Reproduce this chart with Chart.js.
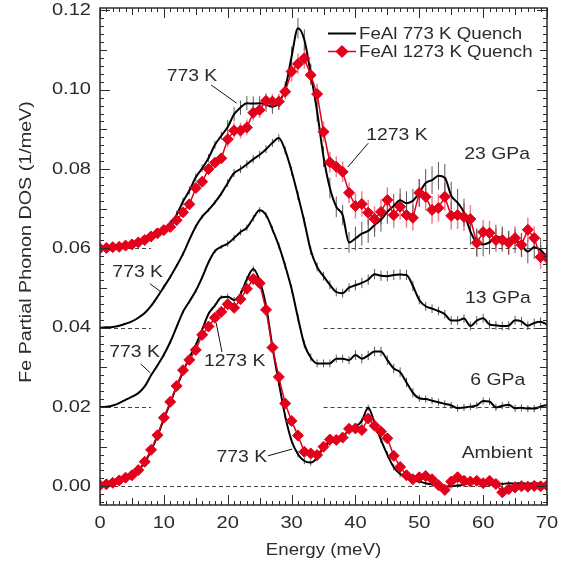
<!DOCTYPE html>
<html>
<head>
<meta charset="utf-8">
<title>FeAl Fe partial phonon DOS</title>
<script src="https://cdn.jsdelivr.net/npm/chart.js@4.4.0/dist/chart.umd.min.js"></script>
<style>
  html, body { margin: 0; padding: 0; background: #fff; }
  #wrap { width: 572px; height: 565px; }
</style>
</head>
<body>
<div id="wrap"><canvas id="dos" width="572" height="565"></canvas></div>
<script>
// ── data (meV, 1/meV) ──
const energy = [0,1,2,3,4,5,6,7,8,9,10,11,12,13,14,15,16,17,18,19,20,21,22,23,24,25,26,27,28,29,
  30,31,32,33,34,35,36,37,38,39,40,41,42,43,44,45,46,47,48,49,50,51,52,53,54,55,56,57,58,59,
  60,61,62,63,64,65,66,67,68,69,70];

// 773 K quench, ambient
const amb773 = [0.0003,0.0005,0.0009,0.0014,0.0021,0.0028,0.0040,0.0060,0.0090,0.0127,
  0.0170,0.0210,0.0252,0.0288,0.0325,0.0356,0.0395,0.0435,0.0456,0.0477,
  0.0478,0.0470,0.0485,0.0522,0.0548,0.0518,0.0455,0.0352,0.0262,0.0177,
  0.0115,0.0081,0.0064,0.0060,0.0072,0.0098,0.0110,0.0115,0.0124,0.0142,
  0.0150,0.0165,0.0198,0.0160,0.0117,0.0080,0.0048,0.0031,0.0022,0.0015,
  0.0012,0.0008,0.0005,0.0003,-0.0001,0.0000,0.0002,0.0005,0.0009,0.0008,
  0.0007,0.0004,0.0005,0.0006,0.0008,0.0007,0.0009,0.0006,0.0008,0.0007,0.0006];

// 1273 K quench, ambient
const amb1273 = [0.0003,0.0005,0.0009,0.0015,0.0022,0.0028,0.0041,0.0062,0.0092,0.0129,
  0.0173,0.0213,0.0253,0.0293,0.0319,0.0344,0.0382,0.0403,0.0425,0.0440,
  0.0459,0.0450,0.0472,0.0498,0.0523,0.0512,0.0445,0.0350,0.0276,0.0209,
  0.0165,0.0128,0.0087,0.0083,0.0079,0.0100,0.0118,0.0117,0.0123,0.0145,
  0.0146,0.0142,0.0171,0.0153,0.0138,0.0121,0.0077,0.0049,0.0028,0.0018,
  0.0023,0.0026,0.0018,0.0003,-0.0009,0.0012,0.0023,0.0014,0.0012,0.0014,
  0.0008,0.0014,0.0006,-0.0015,-0.0007,-0.0003,0.0000,-0.0001,0.0001,0.0000,0.0002];

// 773 K quench, 6 GPa (offset +0.02)
const p6_773 = [0.0200,0.0201,0.0204,0.0210,0.0218,0.0226,0.0235,0.0252,0.0280,0.0305,
  0.0332,0.0364,0.0402,0.0440,0.0466,0.0493,0.0527,0.0565,0.0593,0.0604,
  0.0612,0.0626,0.0641,0.0652,0.0676,0.0696,0.0684,0.0648,0.0607,0.0556,
  0.0498,0.0425,0.0358,0.0325,0.0310,0.0310,0.0310,0.0322,0.0322,0.0318,
  0.0331,0.0322,0.0330,0.0340,0.0340,0.0318,0.0297,0.0288,0.0262,0.0236,
  0.0222,0.0220,0.0216,0.0212,0.0208,0.0204,0.0197,0.0199,0.0201,0.0204,
  0.0215,0.0214,0.0199,0.0203,0.0206,0.0197,0.0198,0.0196,0.0196,0.0201,0.0205];

// 773 K quench, 13 GPa (offset +0.04)
const p13_773 = [0.0400,0.0401,0.0402,0.0405,0.0410,0.0416,0.0425,0.0437,0.0455,0.0478,
  0.0503,0.0528,0.0556,0.0586,0.0622,0.0655,0.0680,0.0697,0.0716,0.0738,
  0.0765,0.0790,0.0800,0.0812,0.0825,0.0836,0.0850,0.0866,0.0878,0.0847,
  0.0795,0.0733,0.0667,0.0595,0.0553,0.0530,0.0508,0.0490,0.0487,0.0501,
  0.0507,0.0513,0.0521,0.0535,0.0531,0.0530,0.0533,0.0534,0.0533,0.0505,
  0.0470,0.0454,0.0448,0.0442,0.0434,0.0418,0.0418,0.0423,0.0404,0.0418,
  0.0424,0.0408,0.0406,0.0404,0.0405,0.0419,0.0416,0.0405,0.0412,0.0415,0.0408];

// 773 K quench, 23 GPa (offset +0.06)
const p23_773 = [0.0600,0.0601,0.0602,0.0604,0.0606,0.0610,0.0615,0.0621,0.0630,0.0638,
  0.0648,0.0662,0.0685,0.0718,0.0746,0.0779,0.0802,0.0828,0.0861,0.0884,
  0.0906,0.0938,0.0955,0.0966,0.0965,0.0966,0.0962,0.0957,0.0967,0.1003,
  0.1083,0.1155,0.1126,0.1040,0.0945,0.0831,0.0752,0.0705,0.0684,0.0615,
  0.0625,0.0637,0.0644,0.0659,0.0672,0.0692,0.0707,0.0721,0.0714,0.0720,
  0.0740,0.0765,0.0772,0.0783,0.0778,0.0733,0.0715,0.0690,0.0643,0.0615,
  0.0610,0.0615,0.0630,0.0625,0.0614,0.0618,0.0608,0.0592,0.0603,0.0596,0.0578];

// 1273 K quench, 23 GPa (offset +0.06)
const p23_1273 = [0.0600,0.0601,0.0603,0.0604,0.0607,0.0610,0.0615,0.0621,0.0630,0.0638,
  0.0646,0.0654,0.0671,0.0691,0.0711,0.0752,0.0768,0.0800,0.0816,0.0827,
  0.0875,0.0897,0.0897,0.0905,0.0942,0.0949,0.0972,0.0970,0.0970,0.0995,
  0.1046,0.1065,0.1079,0.1037,0.0989,0.0894,0.0817,0.0806,0.0793,0.0740,
  0.0707,0.0712,0.0690,0.0674,0.0692,0.0722,0.0684,0.0705,0.0684,0.0677,
  0.0740,0.0730,0.0697,0.0702,0.0730,0.0682,0.0684,0.0679,0.0674,0.0614,
  0.0641,0.0639,0.0621,0.0621,0.0614,0.0626,0.0609,0.0647,0.0626,0.0578,0.0576];

// error bar half-heights, one value per 10 meV band (0-9, 10-19, ..., 60-70)
const errAmb773  = [0.0001,0.0005,0.0008,0.0008,0.0008,0.0006,0.0006];
const errAmb1273 = [0.0002,0.0006,0.0006,0.0008,0.0008,0.0008,0.0008];
const err6_773   = [0.0001,0.0005,0.0008,0.0010,0.0012,0.0009,0.0009];
const err13_773  = [0.0001,0.0005,0.0010,0.0011,0.0013,0.0011,0.0011];
const err23_773  = [0.0003,0.0010,0.0018,0.0026,0.0030,0.0035,0.0030];
const err23_1273 = [0.0003,0.0010,0.0020,0.0026,0.0032,0.0035,0.0030];

const xTicks = [0,10,20,30,40,50,60,70];
const yTicks = [0.00,0.02,0.04,0.06,0.08,0.10,0.12];

// dashed zero line of each offset spectrum, and the energy spans where it shows
const baseLevels = [0.06, 0.04, 0.02, 0.00];
const baseSpans  = [[[0,8],[35,70]], [[0,8],[35,70]], [[0,8],[35,70]], [[0,70]]];

const RED = '#e2001a';
const INK = '#2b2b2b';
const FAMILY = '"Liberation Sans", Arial, Helvetica, sans-serif';
const FS = 17;

// text labels on the plot: position and leader line in data units
const notes = [
  { text: '773 K',   at: [14.4, 0.1035], lead: [[17.4, 0.1012], [21.4, 0.0966]] },
  { text: '1273 K',  at: [46.5, 0.0886], lead: [[42.0, 0.0865], [38.8, 0.0805]] },
  { text: '23 GPa',  at: [62.2, 0.0838] },
  { text: '773 K',   at: [5.9, 0.0540],  lead: [[7.8, 0.0511], [9.4, 0.0492]] },
  { text: '13 GPa',  at: [62.3, 0.0475] },
  { text: '773 K',   at: [5.4, 0.0337],  lead: [[6.4, 0.0308], [7.9, 0.0286]] },
  { text: '6 GPa',   at: [62.3, 0.0268] },
  { text: '1273 K',  at: [21.1, 0.0314], lead: [[19.1, 0.0339], [18.2, 0.0412]] },
  { text: '773 K',   at: [22.2, 0.0074], lead: [[26.3, 0.0077], [30.1, 0.0094]] },
  { text: 'Ambient', at: [62.2, 0.0084] },
];

const pts = vals => energy.map((e, i) => ({ x: e, y: vals[i] }));

function blackSet(vals, err) {
  return { label: 'FeAl 773 K Quench', data: pts(vals), borderColor: '#000', borderWidth: 2,
    pointRadius: 0, cubicInterpolationMode: 'monotone',
    errBand: err, errColor: '#5a5a5a', errWidth: 1 };
}
function redSet(vals, err) {
  return { label: 'FeAl 1273 K Quench', data: pts(vals), borderColor: RED, borderWidth: 1.5,
    pointStyle: 'rectRot', pointRadius: 5.5, pointBorderWidth: 1,
    pointBackgroundColor: RED, pointBorderColor: RED,
    errBand: err, errColor: 'rgba(226,0,26,0.5)', errWidth: 1.5 };
}

function seg(ctx, x0, y0, x1, y1) {
  ctx.beginPath(); ctx.moveTo(x0, y0); ctx.lineTo(x1, y1); ctx.stroke();
}
// the figure's lettering is set a little wider than the plain font
function label(ctx, str, x, y, align, sx, rot) {
  ctx.save();
  ctx.translate(x, y);
  if (rot) ctx.rotate(rot);
  ctx.scale(sx, 1);
  ctx.textAlign = align;
  ctx.fillText(str, 0, 0);
  ctx.restore();
}

const figureDecor = {
  id: 'figureDecor',
  beforeDatasetsDraw(chart) {
    const { ctx, chartArea: a, scales: { x, y } } = chart;
    ctx.save();
    ctx.beginPath(); ctx.rect(a.left, a.top, a.right - a.left, a.bottom - a.top); ctx.clip();
    // dashed baselines
    ctx.strokeStyle = '#444'; ctx.lineWidth = 1; ctx.setLineDash([4, 3]);
    baseLevels.forEach((lvl, k) => baseSpans[k].forEach(([e0, e1]) => {
      const py = Math.round(y.getPixelForValue(lvl)) + 0.5;
      seg(ctx, x.getPixelForValue(e0), py, x.getPixelForValue(e1), py);
    }));
    ctx.setLineDash([]);
    // error bars
    chart.data.datasets.forEach(ds => {
      if (!ds.errBand) return;
      ctx.strokeStyle = ds.errColor; ctx.lineWidth = ds.errWidth;
      ds.data.forEach(p => {
        const e = ds.errBand[Math.min(6, Math.floor(p.x / 10))];
        const px = x.getPixelForValue(p.x);
        seg(ctx, px, y.getPixelForValue(p.y - e), px, y.getPixelForValue(p.y + e));
      });
    });
    ctx.restore();
  },
  afterDraw(chart) {
    const { ctx, chartArea: a, scales: { x, y } } = chart;
    ctx.save();
    // inward ticks on all four sides
    ctx.strokeStyle = INK; ctx.lineWidth = 1;
    for (let e = 0; e <= 70; e++) {
      const len = e % 10 === 0 ? 10 : e % 5 === 0 ? 7 : 4;
      const px = Math.round(x.getPixelForValue(e)) + 0.5;
      seg(ctx, px, a.bottom, px, a.bottom - len);
      seg(ctx, px, a.top, px, a.top + len);
    }
    for (let k = -2; k <= 60; k++) {
      const len = k % 10 === 0 ? 10 : k % 5 === 0 ? 7 : 4;
      const py = Math.round(y.getPixelForValue(k * 0.002)) + 0.5;
      seg(ctx, a.left, py, a.left + len, py);
      seg(ctx, a.right, py, a.right - len, py);
    }
    ctx.lineWidth = 1.5;
    ctx.strokeRect(a.left, a.top, a.right - a.left, a.bottom - a.top);

    ctx.fillStyle = INK;
    ctx.font = FS + 'px ' + FAMILY;
    ctx.textBaseline = 'middle';

    // tick labels from the scales
    x.ticks.forEach(t => label(ctx, String(t.value), x.getPixelForValue(t.value), 523, 'center', 1.18));
    y.ticks.forEach(t => label(ctx, t.value.toFixed(2), 91, y.getPixelForValue(t.value), 'right', 1.18));

    // axis titles
    label(ctx, 'Energy (meV)', (a.left + a.right) / 2, 550, 'center', 1.1);
    label(ctx, 'Fe Partial Phonon DOS (1/meV)', 26, 242, 'center', 1.16, -Math.PI / 2);

    // legend
    ctx.strokeStyle = '#000'; ctx.lineWidth = 2;
    seg(ctx, 328, 33.5, 356, 33.5);
    label(ctx, 'FeAl 773 K Quench', 359, 34, 'left', 1.1);
    ctx.strokeStyle = RED; ctx.fillStyle = RED; ctx.lineWidth = 1.5;
    seg(ctx, 328, 51.5, 356, 51.5);
    Chart.helpers.drawPoint(ctx, { pointStyle: 'rectRot', radius: 5.5, borderWidth: 1 }, 342, 51.5);
    ctx.fill();
    ctx.fillStyle = INK;
    label(ctx, 'FeAl 1273 K Quench', 359, 52, 'left', 1.1);

    // on-plot labels with leader lines
    ctx.strokeStyle = '#111'; ctx.lineWidth = 1;
    notes.forEach(n => {
      label(ctx, n.text, x.getPixelForValue(n.at[0]), y.getPixelForValue(n.at[1]), 'center', 1.14);
      if (n.lead) {
        seg(ctx, x.getPixelForValue(n.lead[0][0]), y.getPixelForValue(n.lead[0][1]),
                 x.getPixelForValue(n.lead[1][0]), y.getPixelForValue(n.lead[1][1]));
      }
    });
    ctx.restore();
  }
};

new Chart(document.getElementById('dos'), {
  type: 'line',
  data: {
    datasets: [
      redSet(p23_1273, err23_1273),
      redSet(amb1273, errAmb1273),
      blackSet(p23_773, err23_773),
      blackSet(p13_773, err13_773),
      blackSet(p6_773, err6_773),
      blackSet(amb773, errAmb773),
    ]
  },
  options: {
    responsive: false,
    animation: false,
    devicePixelRatio: 1,
    layout: { padding: { top: 8, right: 25, left: 0, bottom: 0 } },
    plugins: { legend: { display: false }, tooltip: { enabled: false } },
    scales: {
      x: {
        type: 'linear', min: 0, max: 70,
        grid: { display: false, drawTicks: false }, border: { display: false },
        ticks: { display: false },
        afterBuildTicks: s => { s.ticks = xTicks.map(v => ({ value: v })); },
        afterFit: s => { s.height = 60; s.paddingLeft = 0; s.paddingRight = 0; }
      },
      y: {
        type: 'linear', min: -0.0047, max: 0.1206,
        grid: { display: false, drawTicks: false }, border: { display: false },
        ticks: { display: false },
        afterBuildTicks: s => { s.ticks = yTicks.map(v => ({ value: v })); },
        afterFit: s => { s.width = 100; s.paddingTop = 0; s.paddingBottom = 0; }
      }
    }
  },
  plugins: [figureDecor]
});
</script>
</body>
</html>
